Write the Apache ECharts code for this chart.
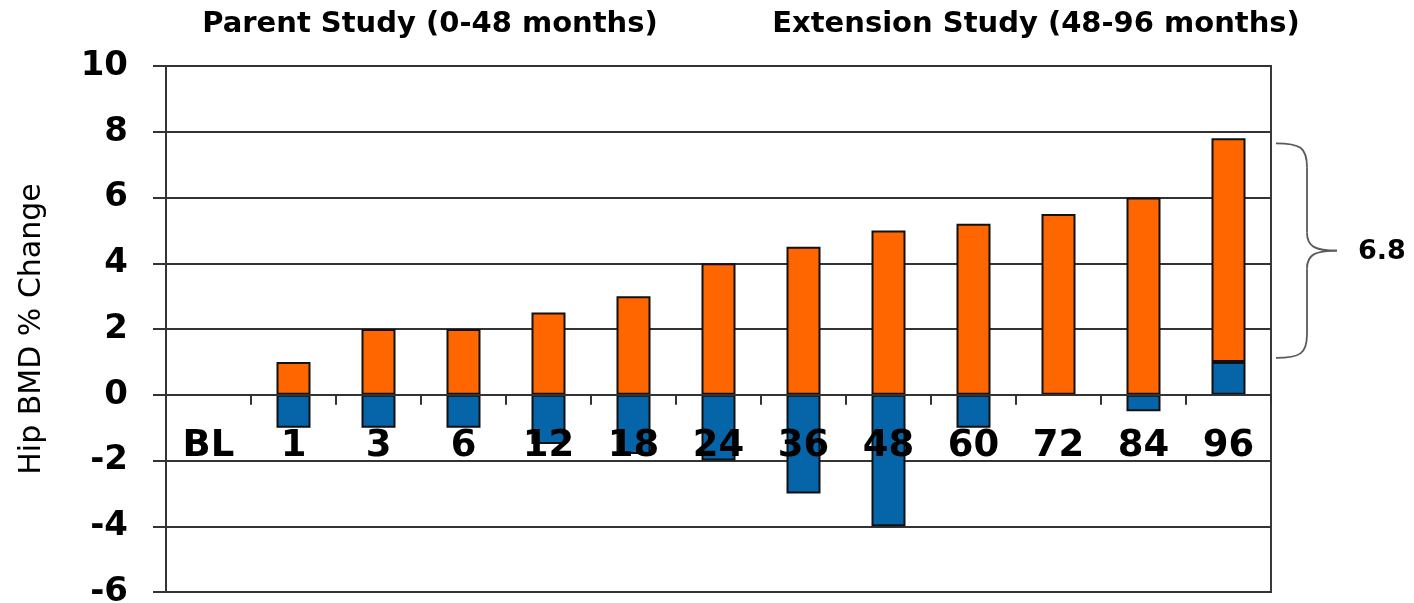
<!DOCTYPE html>
<html>
<head>
<meta charset="utf-8">
<title>Hip BMD % Change</title>
<script src="https://cdn.jsdelivr.net/npm/echarts/dist/echarts.min.js"></script>
<style>
  html, body { margin: 0; padding: 0; background: #ffffff; }
  #chart { width: 1414px; height: 603px; }
</style>
</head>
<body>
<div id="chart"></div>
<script>
// Visit months (BL = baseline)
const months = ['BL', '1', '3', '6', '12', '18', '24', '36', '48', '60', '72', '84', '96'];
// Lower (blue) segment: % change in hip BMD
const blueChange = [null, -1.0, -1.0, -1.0, -1.5, -1.8, -2.0, -3.0, -4.0, -1.0, null, -0.5, 1.0];
// Upper (orange) segment: % change in hip BMD, stacked on the blue one
const orangeChange = [null, 1.0, 2.0, 2.0, 2.5, 3.0, 4.0, 4.5, 5.0, 5.2, 5.5, 6.0, 6.8];
// Value axis range and step
const yMin = -6, yMax = 10, yStep = 2;
// Study period headings
const studyTitles = ['Parent Study (0-48 months)', 'Extension Study (48-96 months)'];

const FONT_BOLD = 'DejaVu Sans';
const WIDTH = 1414, HEIGHT = 603;
const GRID = { left: 166, right: 143, top: 66, bottom: 11 };
// Lift the category axis (line, ticks and labels) up to the zero line
const plotHeight = HEIGHT - GRID.top - GRID.bottom;
const zeroOffset = -plotHeight * (0 - yMin) / (yMax - yMin);

const chart = echarts.init(document.getElementById('chart'), null, { renderer: 'canvas' });

const option = {
  animation: false,
  backgroundColor: '#ffffff',
  grid: {
    left: GRID.left, right: GRID.right, top: GRID.top, bottom: GRID.bottom,
    containLabel: false,
    outerBoundsMode: 'none',
    show: true,
    borderColor: '#3a3a3a',
    borderWidth: 2,
    backgroundColor: 'transparent'
  },
  xAxis: {
    type: 'category',
    data: months,
    position: 'bottom',
    offset: zeroOffset,
    z: 10,
    axisLine: { show: true, onZero: false, lineStyle: { color: '#333333', width: 2 } },
    axisTick: { show: true, alignWithLabel: false, inside: false, length: 10, lineStyle: { color: '#333333', width: 2 } },
    axisLabel: {
      show: true, interval: 0, margin: 33, color: '#000000',
      fontFamily: FONT_BOLD, fontWeight: 'bold', fontSize: 37, lineHeight: 37
    },
    splitLine: { show: false }
  },
  yAxis: {
    type: 'value',
    min: yMin, max: yMax, interval: yStep,
    name: 'Hip BMD % Change',
    nameLocation: 'middle',
    nameGap: 119,
    nameTextStyle: { fontFamily: 'DejaVu Sans', fontSize: 30, color: '#000000', fontWeight: 'normal' },
    axisLine: { show: true, lineStyle: { color: '#333333', width: 2 } },
    axisTick: { show: true, inside: false, length: 13, lineStyle: { color: '#333333', width: 2 } },
    axisLabel: {
      margin: 38, color: '#000000',
      fontFamily: FONT_BOLD, fontWeight: 'bold', fontSize: 34
    },
    splitLine: { show: true, lineStyle: { color: '#333333', width: 2 } }
  },
  series: [
    {
      name: 'blue',
      type: 'bar',
      stack: 'bmd',
      barWidth: 34,
      data: blueChange,
      itemStyle: { color: '#0565a8', borderColor: '#111111', borderWidth: 2 }
    },
    {
      name: 'orange',
      type: 'bar',
      stack: 'bmd',
      barWidth: 34,
      data: orangeChange,
      itemStyle: { color: '#ff6600', borderColor: '#111111', borderWidth: 2 }
    }
  ]
};

chart.setOption(option);

// Brace spanning the orange segment of the last bar, labelled with that segment's size
function braceElements() {
  const last = months.length - 1;
  const lo = blueChange[last] > 0 ? blueChange[last] : 0;
  const hi = lo + orangeChange[last];
  const pHi = chart.convertToPixel({ gridIndex: 0 }, [months[last], hi]);
  const pLo = chart.convertToPixel({ gridIndex: 0 }, [months[last], lo]);
  const pPrev = chart.convertToPixel({ gridIndex: 0 }, [months[last - 1], lo]);
  const band = pHi[0] - pPrev[0];
  const gridRight = pHi[0] + band / 2;

  const x0 = gridRight + 5;
  const xv = x0 + 31;
  const xt = x0 + 61;
  const yTop = pHi[1] + 5;
  const yBot = pLo[1] - 4;
  const yMid = (yTop + yBot) / 2;
  const stroke = { fill: 'none', stroke: '#5a5a5a', lineWidth: 1.8 };

  const curve = (x1, y1, cx1, cy1, cx2, cy2, x2, y2) => ({
    type: 'bezierCurve',
    shape: { x1, y1, cpx1: cx1, cpy1: cy1, cpx2: cx2, cpy2: cy2, x2, y2 },
    style: stroke, z: 20
  });
  const line = (x1, y1, x2, y2) => ({
    type: 'line', shape: { x1, y1, x2, y2 }, style: stroke, z: 20
  });

  return [
    curve(x0, yTop, x0 + 24, yTop, xv, yTop + 4, xv, yTop + 24),
    line(xv, yTop + 24, xv, yMid - 18),
    curve(xv, yMid - 18, xv, yMid - 4, xv + 8, yMid, xt, yMid),
    curve(xt, yMid, xv + 8, yMid, xv, yMid + 4, xv, yMid + 18),
    line(xv, yMid + 18, xv, yBot - 24),
    curve(xv, yBot - 24, xv, yBot - 4, x0 + 24, yBot, x0, yBot),
    {
      type: 'text',
      x: xt + 21,
      y: yMid + 1,
      style: {
        text: orangeChange[last].toFixed(1),
        fontFamily: FONT_BOLD, fontWeight: 'bold', fontSize: 27,
        fill: '#000000', textAlign: 'left', textVerticalAlign: 'middle'
      },
      z: 20
    }
  ];
}

const titleElements = [
  { text: studyTitles[0], x: 430 },
  { text: studyTitles[1], x: 1036 }
].map(t => ({
  type: 'text',
  x: t.x, y: 24,
  style: {
    text: t.text,
    fontFamily: FONT_BOLD, fontWeight: 'bold', fontSize: 29,
    fill: '#000000', textAlign: 'center', textVerticalAlign: 'middle'
  }
}));

chart.setOption({ graphic: { elements: braceElements().concat(titleElements) } });
</script>
</body>
</html>
